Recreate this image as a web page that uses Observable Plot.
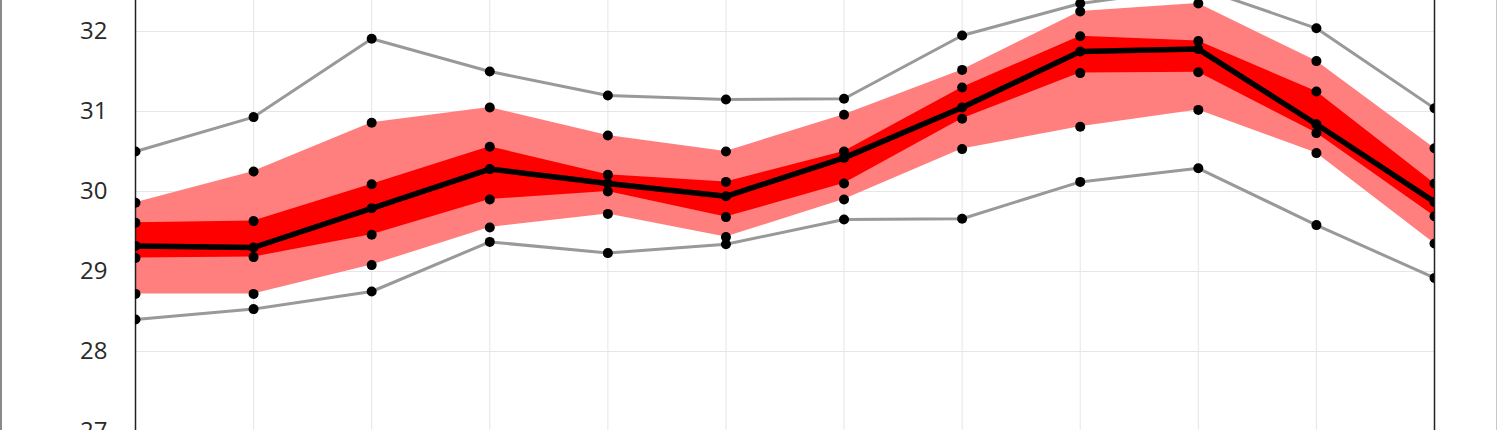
<!DOCTYPE html>
<html>
<head>
<meta charset="utf-8">
<script src="https://cdn.jsdelivr.net/npm/d3@7"></script>
<script src="https://cdn.jsdelivr.net/npm/@observablehq/plot@0.6"></script>
<style>
  html, body { margin: 0; padding: 0; background: white; }
  #wrap { position: relative; width: 1500px; height: 430px; overflow: hidden; }
  #bl { position: absolute; left: 0; top: 0; width: 2px; height: 430px; background: #8a8a8a; }
  #br { position: absolute; left: 1496px; top: 0; width: 1px; height: 430px; background: #c8c8c8; }
</style>
</head>
<body>
<div id="wrap"><div id="chart"></div><div id="bl"></div><div id="br"></div></div>
<script>
// categories (12 positions along the x axis)
const idx = [0, 1, 2, 3, 4, 5, 6, 7, 8, 9, 10, 11];
// series values
const maxV     = [30.50, 30.93, 31.91, 31.50, 31.20, 31.15, 31.16, 31.95, 32.35, 32.55, 32.04, 31.04];
const outerUp  = [29.86, 30.25, 30.86, 31.05, 30.70, 30.50, 30.96, 31.52, 32.25, 32.35, 31.63, 30.54];
const innerUp  = [29.61, 29.63, 30.09, 30.56, 30.21, 30.12, 30.50, 31.30, 31.94, 31.88, 31.25, 30.10];
const meanV    = [29.32, 29.30, 29.79, 30.28, 30.10, 29.94, 30.42, 31.05, 31.75, 31.78, 30.84, 29.87];
const innerLow = [29.17, 29.18, 29.46, 29.90, 30.00, 29.68, 30.10, 30.91, 31.48, 31.49, 30.73, 29.69];
const outerLow = [28.72, 28.72, 29.08, 29.55, 29.72, 29.43, 29.90, 30.53, 30.81, 31.02, 30.48, 29.35];
const minV     = [28.40, 28.53, 28.75, 29.37, 29.23, 29.34, 29.65, 29.66, 30.12, 30.29, 29.58, 28.92];
// tick labels
const yTicks = [27, 28, 29, 30, 31, 32];

const rows = idx.map((x, i) => ({
  x, max: maxV[i], ou: outerUp[i], iu: innerUp[i], mean: meanV[i],
  il: innerLow[i], ol: outerLow[i], min: minV[i]
}));
const dots = rows.flatMap(r => ["max", "ou", "iu", "mean", "il", "ol", "min"].map(k => ({x: r.x, y: r[k]})));

const chart = Plot.plot({
  width: 1500,
  height: 430,
  marginLeft: 135,
  marginRight: 66,
  marginTop: 0,
  marginBottom: 0,
  style: {fontFamily: "'Open Sans', sans-serif", color: "#333", background: "white", overflow: "hidden"},
  x: {domain: [0, 11], axis: null},
  y: {domain: [27.0125, 32.3875], axis: null},
  marks: [
    Plot.gridX(idx, {stroke: "#e6e6e6", strokeOpacity: 1, strokeWidth: 1}),
    Plot.gridY(yTicks, {stroke: "#e6e6e6", strokeOpacity: 1, strokeWidth: 1}),
    Plot.axisY(yTicks, {tickSize: 0, tickPadding: 28, fontSize: 24, fill: "#2a2a2a", label: null, tickFormat: d => String(d)}),
    Plot.areaY(rows, {x: "x", y1: "ol", y2: "ou", fill: "#ff7f7f", clip: true}),
    Plot.areaY(rows, {x: "x", y1: "il", y2: "iu", fill: "#ff0000", clip: true}),
    Plot.lineY(rows, {x: "x", y: "max", stroke: "#999", strokeWidth: 3, clip: true}),
    Plot.lineY(rows, {x: "x", y: "min", stroke: "#999", strokeWidth: 3, clip: true}),
    Plot.ruleX([0, 11], {stroke: "#222", strokeWidth: 1.5}),
    Plot.lineY(rows, {x: "x", y: "mean", stroke: "black", strokeWidth: 5.5, clip: true}),
    Plot.dot(dots, {x: "x", y: "y", r: 5, fill: "black", stroke: "none", clip: true})
  ]
});
document.getElementById("chart").appendChild(chart);
</script>
</body>
</html>
